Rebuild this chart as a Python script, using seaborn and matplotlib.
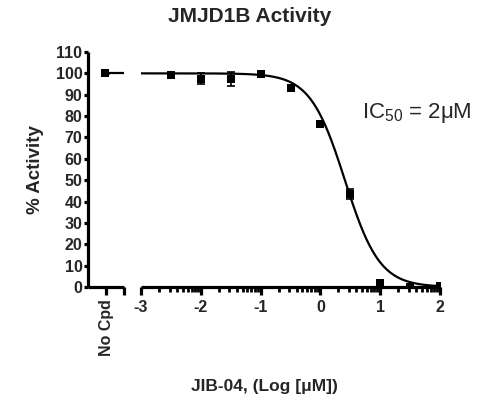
import numpy as np
import pandas as pd
import matplotlib
matplotlib.use('Agg')
import matplotlib.pyplot as plt
import seaborn as sns

sns.set_theme(style="ticks")
plt.rcParams['font.family'] = ['Liberation Sans', 'DejaVu Sans']
plt.rcParams['mathtext.default'] = 'regular'

# data
log_conc = [-2.5, -2.0, -1.5, -1.0, -0.5, 0.0, 0.5, 1.0, 1.5, 2.0]
activity = [99.3, 97.5, 97.5, 99.9, 93.2, 76.5, 43.6, 1.8, 0.1, 0.3]
activity_err = [0.6, 2.6, 3.2, 0.4, 0.6, 0.6, 2.5, 0.5, 0.3, 0.3]
no_cpd_activity = 100.0
no_cpd_err = 0.4

# sigmoidal fit parameters (as shown by the drawn curve)
fit_top = 100.0
fit_bottom = 0.0
fit_log_ic50 = 0.41
fit_hill = 1.5

y_ticks = list(range(0, 111, 10))
x_ticks = [-3, -2, -1, 0, 1, 2]

W, H = 502, 416
fig = plt.figure(figsize=(W / 100, H / 100), dpi=100)

def px(x0, y0, x1, y1):
    return [x0 / W, 1 - y1 / H, (x1 - x0) / W, (y1 - y0) / H]

ax_nc = fig.add_axes(px(88, 52, 124, 287))
ax = fig.add_axes(px(141, 52, 440, 287))

df = pd.DataFrame({'logx': log_conc, 'act': activity, 'err': activity_err})
curve_x = np.linspace(-3, 2, 400)
curve = pd.DataFrame({'logx': curve_x,
                      'act': fit_bottom + (fit_top - fit_bottom) /
                      (1 + 10 ** ((curve_x - fit_log_ic50) * fit_hill))})

lw = 2.3
mk = 34
cap = 2.8
# main segment
sns.lineplot(data=curve, x='logx', y='act', ax=ax, color='black', lw=1.6)
ax.errorbar(df['logx'], df['act'], yerr=df['err'], fmt='none', ecolor='black',
            elinewidth=1.2, capsize=cap, capthick=1.2, zorder=3)
sns.scatterplot(data=df, x='logx', y='act', ax=ax, marker='s', s=mk,
                color='black', edgecolor='black', linewidth=0, zorder=4)

# "No Cpd" segment
nc_x = 0.47
nc = pd.DataFrame({'logx': [nc_x, 1.0], 'act': [fit_top, fit_top]})
sns.lineplot(data=nc, x='logx', y='act', ax=ax_nc, color='black', lw=1.6)
ax_nc.errorbar([nc_x], [no_cpd_activity], yerr=[no_cpd_err], fmt='none',
               ecolor='black', elinewidth=1.2, capsize=cap)
ax_nc.scatter([nc_x], [no_cpd_activity], marker='s', s=mk, color='black',
              linewidths=0, zorder=4)

for a in (ax, ax_nc):
    a.set_ylim(0, 110)
    a.set_xlabel('')
    a.set_ylabel('')
    a.patch.set_alpha(0)
    for s in ('top', 'right'):
        a.spines[s].set_visible(False)
    for s in ('left', 'bottom'):
        a.spines[s].set_linewidth(lw)
        a.spines[s].set_color('black')
        a.spines[s].set_capstyle('butt')

ax.set_xlim(-3, 2)
ax.spines['left'].set_visible(False)
ax.set_yticks([])
ax.set_xticks(x_ticks)
ax.set_xticklabels([str(t) for t in x_ticks])
minor = [d + np.log10(m) for d in range(-3, 2) for m in range(2, 10)]
ax.set_xticks(minor, minor=True)
ax.tick_params(axis='x', which='major', length=6, width=lw, pad=3,
               labelsize=11.5, color='black')
ax.tick_params(axis='x', which='minor', length=3.5, width=2.0, color='black')
for t in ax.get_xticklabels():
    t.set_fontweight('bold')

ax_nc.set_xlim(0, 1)
ax_nc.set_xticks([0.5, 1.0])
ax_nc.set_xticklabels(['No Cpd', ''], rotation=90)
ax_nc.set_yticks(y_ticks)
ax_nc.set_yticklabels([str(t) for t in y_ticks])
ax_nc.tick_params(axis='x', length=6, width=lw, pad=3, labelsize=11.5,
                  color='black')
ax_nc.tick_params(axis='y', length=3, width=lw, pad=1, labelsize=11.5,
                  color='black')
for t in ax_nc.get_xticklabels() + ax_nc.get_yticklabels():
    t.set_fontweight('bold')

fig.text(250 / W, 1 - 16 / H, 'JMJD1B Activity', ha='center', va='center',
         fontsize=15, fontweight='bold')
fig.text(264 / W, 1 - 387 / H, 'JIB-04, (Log [μM])', ha='center', va='center',
         fontsize=12.5, fontweight='bold')
fig.text(36 / W, 1 - 170 / H, '% Activity', ha='center', va='center',
         rotation=90, fontsize=13.5, fontweight='bold')
fig.text(362 / W, 1 - 113 / H, 'IC$_{50}$ = 2μM', ha='left', va='center',
         fontsize=16)

fig.savefig('out.png', dpi=100)
